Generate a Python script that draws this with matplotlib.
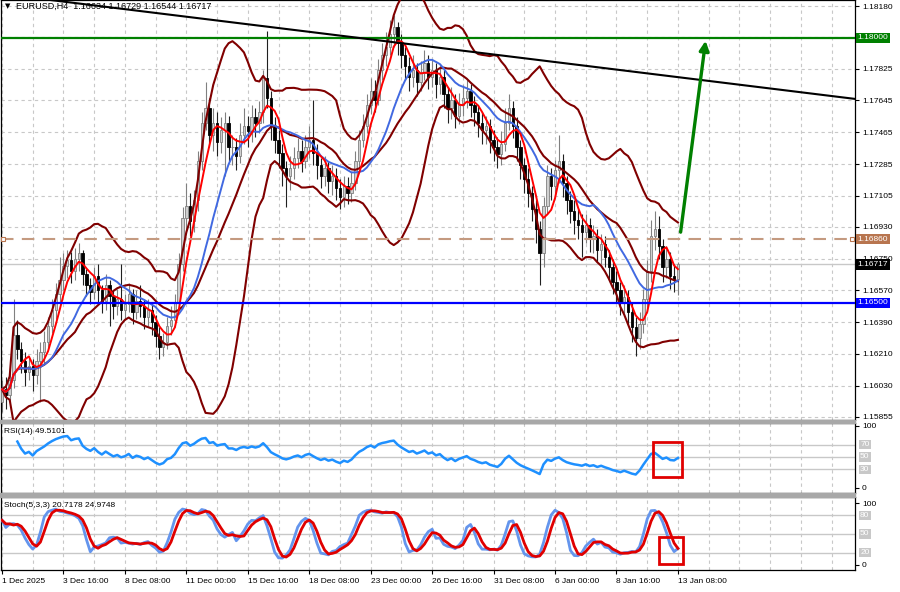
import numpy as np
import pandas as pd
import matplotlib
matplotlib.use('Agg')
import matplotlib.pyplot as plt
from matplotlib.patches import Rectangle

plt.rcParams['font.family'] = ['Liberation Sans', 'DejaVu Sans']

# EURUSD H4 candles, 1 Dec 2025 .. 13 Jan 2026
first_open = 1.1594
closes = [
    1.1601, 1.1598, 1.1606, 1.1632, 1.1624, 1.1617, 1.1611, 1.1614, 1.1609, 1.1617,
    1.1622, 1.1628, 1.1637, 1.1646, 1.1655, 1.1663, 1.1671, 1.1674, 1.1668, 1.1675,
    1.1678, 1.1666, 1.1660, 1.1656, 1.1665, 1.1657, 1.1651, 1.1660, 1.1654, 1.1648,
    1.1652, 1.1646, 1.1649, 1.1655, 1.1645, 1.1651, 1.1648, 1.1642, 1.1646, 1.1639,
    1.1631, 1.1625, 1.1628, 1.1637, 1.1640, 1.1650, 1.1672, 1.1698, 1.1705, 1.1696,
    1.1708, 1.1730, 1.1752, 1.1760, 1.1745, 1.1752, 1.1741, 1.1748, 1.1752, 1.1738,
    1.1738, 1.1733, 1.1745, 1.1750, 1.1747, 1.1755, 1.1752, 1.1758, 1.1777, 1.1766,
    1.1750, 1.1742, 1.1735, 1.1726, 1.1722, 1.1726, 1.1732, 1.1736, 1.1730, 1.1738,
    1.1742, 1.1735, 1.1728, 1.1722, 1.1726, 1.1719, 1.1722, 1.1715, 1.1710, 1.1716,
    1.1712, 1.1718, 1.1730, 1.1742, 1.1750, 1.1762, 1.1770, 1.1765, 1.1782, 1.1790,
    1.1795, 1.1802, 1.1806, 1.1797, 1.1790, 1.1784, 1.1778, 1.1782, 1.1775, 1.1780,
    1.1786, 1.1778, 1.1782, 1.1774, 1.1778, 1.1768, 1.1760, 1.1765, 1.1756, 1.1762,
    1.1766, 1.1770, 1.1762, 1.1758, 1.1752, 1.1748, 1.1750, 1.1742, 1.1738, 1.1734,
    1.1740, 1.1752, 1.1760, 1.1750, 1.1738, 1.1728, 1.1720, 1.1712, 1.1703, 1.1692,
    1.1678, 1.1705, 1.1722, 1.1716, 1.1725, 1.1730, 1.1718, 1.1708, 1.1702, 1.1697,
    1.1694, 1.1690, 1.1694, 1.1686, 1.1688, 1.1680, 1.1683, 1.1676, 1.1670, 1.1662,
    1.1657, 1.1650, 1.1653, 1.1645, 1.1636, 1.1630, 1.1638, 1.1652, 1.1668, 1.1688,
    1.1692, 1.1682, 1.1670, 1.1675, 1.1665, 1.16634, 1.16717]
highs = [
    1.1606, 1.1608, 1.1612, 1.1652, 1.1640, 1.1628, 1.1622, 1.1620, 1.1618, 1.1624,
    1.1628, 1.1634, 1.1642, 1.1652, 1.1661, 1.1676, 1.1678, 1.1680, 1.1679, 1.1681,
    1.1684, 1.1680, 1.1669, 1.1664, 1.1670, 1.1672, 1.1660, 1.1666, 1.1663, 1.1657,
    1.1658, 1.1672, 1.1655, 1.1661, 1.1658, 1.1657, 1.1660, 1.1652, 1.1652, 1.1650,
    1.1643, 1.1636, 1.1633, 1.1642, 1.1648, 1.1655, 1.1678, 1.1704, 1.1718, 1.1712,
    1.1714, 1.1736, 1.1758, 1.1775, 1.1766, 1.1760, 1.1758, 1.1755, 1.1758, 1.1756,
    1.1745, 1.1743, 1.1752, 1.1760, 1.1756, 1.1762, 1.1760, 1.1764, 1.1782, 1.1804,
    1.1770, 1.1755, 1.1748, 1.1740, 1.1730, 1.1733, 1.1738, 1.1743, 1.1742, 1.1745,
    1.1750, 1.1765, 1.1740, 1.1732, 1.1733, 1.1730, 1.1728, 1.1726, 1.1720, 1.1722,
    1.1721, 1.1724, 1.1736, 1.1748, 1.1757, 1.1768, 1.1777, 1.1776, 1.1788, 1.1797,
    1.1803, 1.1810, 1.1813, 1.1809, 1.1802, 1.1795, 1.1789, 1.1790, 1.1786, 1.1787,
    1.1793, 1.1790, 1.1788, 1.1786, 1.1785, 1.1782, 1.1772, 1.1772, 1.1768, 1.1769,
    1.1773, 1.1776, 1.1774, 1.1767, 1.1762, 1.1758, 1.1756, 1.1754, 1.1748, 1.1744,
    1.1747, 1.1760, 1.1768, 1.1764, 1.1755, 1.1742, 1.1732, 1.1726, 1.1716, 1.1708,
    1.1696, 1.1710, 1.1728, 1.1726, 1.1731, 1.1745, 1.1734, 1.1722, 1.1713, 1.1708,
    1.1703, 1.1700, 1.1700, 1.1698, 1.1694, 1.1692, 1.1689, 1.1688, 1.1680, 1.1675,
    1.1668, 1.1662, 1.1660, 1.1657, 1.1650, 1.1642, 1.1645, 1.1658, 1.1674, 1.1697,
    1.1702, 1.1699, 1.1686, 1.1682, 1.1679, 1.1672, 1.16729]
lows = [
    1.1588, 1.1590, 1.1594, 1.1602, 1.1618, 1.1610, 1.1603, 1.1606, 1.1600, 1.1604,
    1.1594, 1.1616, 1.1624, 1.1633, 1.1641, 1.1650, 1.1657, 1.1664, 1.1661, 1.1663,
    1.1668, 1.1660, 1.1654, 1.1649, 1.1652, 1.1650, 1.1644, 1.1646, 1.1637, 1.1641,
    1.1643, 1.1640, 1.1640, 1.1645, 1.1638, 1.1641, 1.1642, 1.1635, 1.1637, 1.1632,
    1.1625, 1.1618, 1.1620, 1.1624, 1.1632, 1.1636, 1.1646, 1.1668, 1.1690, 1.1688,
    1.1690, 1.1702, 1.1725, 1.1748, 1.1738, 1.1736, 1.1733, 1.1735, 1.1722, 1.1730,
    1.1728, 1.1725, 1.1729, 1.1740, 1.1738, 1.1741, 1.1744, 1.1746, 1.1752, 1.1760,
    1.1742, 1.1735, 1.1726, 1.1716, 1.1704, 1.1714, 1.1720, 1.1726, 1.1724, 1.1726,
    1.1732, 1.1728, 1.1720, 1.1715, 1.1716, 1.1712, 1.1711, 1.1708, 1.1703, 1.1704,
    1.1706, 1.1707, 1.1714, 1.1726, 1.1738, 1.1746, 1.1757, 1.1758, 1.1762, 1.1776,
    1.1784, 1.1790, 1.1795, 1.1790, 1.1783, 1.1776, 1.1770, 1.1772, 1.1767, 1.1770,
    1.1776, 1.1771, 1.1772, 1.1766, 1.1768, 1.1760, 1.1752, 1.1754, 1.1749, 1.1751,
    1.1756, 1.1760, 1.1755, 1.1750, 1.1744, 1.1740, 1.1740, 1.1735, 1.1730, 1.1726,
    1.1728, 1.1736, 1.1748, 1.1743, 1.1730, 1.1720, 1.1712, 1.1704, 1.1696, 1.1684,
    1.1660, 1.1670, 1.1700, 1.1708, 1.1711, 1.1718, 1.1710, 1.1700, 1.1695, 1.1689,
    1.1686, 1.1676, 1.1684, 1.1679, 1.1678, 1.1673, 1.1672, 1.1670, 1.1663, 1.1655,
    1.1650, 1.1643, 1.1644, 1.1638, 1.1628, 1.1620, 1.1624, 1.1633, 1.1645, 1.1662,
    1.1680, 1.1675, 1.1662, 1.1664, 1.1658, 1.1656, 1.16544]

date_labels = ['1 Dec 2025', '3 Dec 16:00', '8 Dec 08:00', '11 Dec 00:00', '15 Dec 16:00',
               '18 Dec 08:00', '23 Dec 00:00', '26 Dec 16:00', '31 Dec 08:00', '6 Jan 00:00',
               '8 Jan 16:00', '13 Jan 08:00']
price_ticks = [1.18180, 1.18003, 1.17825, 1.17645, 1.17465, 1.17285, 1.17105, 1.16930,
               1.16750, 1.16570, 1.16390, 1.16210, 1.16030, 1.15855]
price_tick_labels = ['1.18180', '', '1.17825', '1.17645', '1.17465', '1.17285', '1.17105',
                     '1.16930', '1.16750', '1.16570', '1.16390', '1.16210', '1.16030', '1.15855']

# drawn objects
resistance = 1.18000
support = 1.16500
pivot = 1.16860
bid = 1.16717
trend_pts = [(64.6, 1.18075), (222.1, 1.17654)]
arrow_from = (176.6, 1.16884)
arrow_to = (183.3, 1.17999)

n = len(closes)
x = np.arange(n)
close = pd.Series(closes)
high = pd.Series(highs)
low = pd.Series(lows)
opens = np.array([first_open] + closes[:-1])  # forex: open = previous close

# indicators
ma_fast = close.rolling(5, min_periods=1).mean()
ma_slow = close.rolling(14, min_periods=1).mean()
bb_mid = close.rolling(20, min_periods=1).mean()
bb_sd = close.rolling(20, min_periods=1).std(ddof=0)
bb_up = bb_mid + 2 * bb_sd
bb_dn = bb_mid - 2 * bb_sd

delta = close.diff()
gain = delta.clip(lower=0).ewm(alpha=1 / 14, adjust=True).mean()
loss = (-delta.clip(upper=0)).ewm(alpha=1 / 14, adjust=True).mean()
rsi = 100 - 100 / (1 + gain / loss)
rsi[:4] = np.nan  # not enough history yet

ll = low.rolling(5, min_periods=1).min()
hh = high.rolling(5, min_periods=1).max()
stoch_k = 100 * (close - ll).rolling(3, min_periods=1).sum() / (hh - ll).rolling(3, min_periods=1).sum()
stoch_d = stoch_k.rolling(3, min_periods=1).mean()

W, H = 900, 592
fig = plt.figure(figsize=(9, 5.92), dpi=100)
fig.patch.set_facecolor('white')
right = 855 / W
ax = fig.add_axes([1 / W, 1 - 420 / H, right - 1 / W, 420 / H])
ax_rsi = fig.add_axes([1 / W, 1 - 493 / H, right - 1 / W, 70 / H])
ax_st = fig.add_axes([1 / W, 1 - 570 / H, right - 1 / W, 73 / H])

# grey separators between windows
for y0, h in [(420, 3), (493, 4)]:
    fig.patches.append(Rectangle((0, 1 - (y0 + h) / H), right, h / H,
                                 transform=fig.transFigure, color='#a8a8a8', zorder=0))

grid_kw = dict(color='#c8c8c8', ls=(0, (3, 3)), lw=0.8, zorder=0)
xlim = (-0.26, 222.1)
for a in (ax, ax_rsi, ax_st):
    a.set_xlim(*xlim)
    for b in range(0, 223, 8):
        a.axvline(b, **grid_kw)
    for s in a.spines.values():
        s.set_color('black')
        s.set_linewidth(0.9)
    a.yaxis.tick_right()
    a.tick_params(axis='y', length=3, labelsize=6, pad=2, colors='black')
    a.tick_params(axis='x', length=0, labelbottom=False)

# ---------- main price window ----------
ax.set_ylim(1.15836, 1.18214)
ax.set_yticks(price_ticks)
ax.set_yticklabels(price_tick_labels)
ax.grid(axis='y', **grid_kw)

up = close.values >= opens
body_h = close.values - opens
ax.vlines(x[up], low[up], high[up], colors='#808080', lw=0.8, zorder=2)
ax.vlines(x[~up], low[~up], high[~up], colors='#202020', lw=0.8, zorder=2)
ax.bar(x[up], body_h[up], bottom=opens[up], width=0.62, color='#d0d0d0',
       edgecolor='#808080', linewidth=0.6, zorder=3)
ax.bar(x[~up], body_h[~up], bottom=opens[~up], width=0.62, color='black',
       edgecolor='black', linewidth=0.6, zorder=3)

for line in (bb_up, bb_mid, bb_dn):
    ax.plot(x, line, color='#800000', lw=1.5, zorder=4)
ax.plot(x, ma_slow, color='#4169e1', lw=1.4, zorder=5)
ax.plot(x, ma_fast, color='#ff0000', lw=1.4, zorder=6)

ax.axhline(bid, color='#c8c8c8', lw=1, zorder=1)
ax.axhline(resistance, color='#008000', lw=1.6, zorder=7)
ax.axhline(support, color='#0000ff', lw=1.6, zorder=7)
ax.axhline(pivot, color='#c49a80', lw=1.5, ls=(0, (6, 4)), zorder=7)
ax.plot([xlim[0] + 0.55, xlim[1] - 0.75], [pivot, pivot], ls='none', marker='s', ms=3.5,
        mfc='white', mec='#b8754f', mew=0.8, zorder=8, clip_on=False)
ax.axline(trend_pts[0], trend_pts[1], color='black', lw=1.5, zorder=7)
ax.annotate('', xy=arrow_to, xytext=arrow_from,
            arrowprops=dict(arrowstyle='-|>', color='#008000', lw=2.4, mutation_scale=14),
            zorder=8)

ytr = ax.get_yaxis_transform()
for val, fc in [(resistance, '#008000'), (pivot, '#b8754f'), (bid, 'black'), (support, '#0000ff')]:
    ax.text(1.003, val, f'{val:.5f}', transform=ytr, ha='left', va='center', fontsize=6,
            color='white', zorder=10, clip_on=False,
            bbox=dict(boxstyle='square,pad=0.2', fc=fc, ec='none'))

ax.text(0.005, 0.993, '\u25bc', transform=ax.transAxes, ha='left', va='top',
        fontsize=5, family=['DejaVu Sans'])
ax.text(0.018, 0.995, 'EURUSD,H4  1.16634 1.16729 1.16544 1.16717', transform=ax.transAxes,
        ha='left', va='top', fontsize=6.5, zorder=10)

# ---------- RSI window ----------
ax_rsi.set_ylim(-8.1, 104.8)
for lv in (70, 50, 30):
    ax_rsi.axhline(lv, color='#c8c8c8', lw=1, zorder=1)
ax_rsi.plot(x, rsi, color='#1e90ff', lw=1.8, zorder=3)
ax_rsi.set_yticks([100, 0])
ax_rsi.set_yticklabels(['100', '0'])
rtr = ax_rsi.get_yaxis_transform()
for lv in (70, 50, 30):
    ax_rsi.text(1.006, lv, str(lv), transform=rtr, ha='left', va='center', fontsize=6,
                color='white', clip_on=False,
                bbox=dict(boxstyle='square,pad=0.15', fc='#c8c8c8', ec='none'))
ax_rsi.text(0.004, 0.93, 'RSI(14) 49.5101', transform=ax_rsi.transAxes, ha='left', va='top',
            fontsize=6)
ax_rsi.add_patch(Rectangle((169.5, 17.7), 7.6, 56.5, fill=False, ec='#e00000', lw=2, zorder=6))

# ---------- Stochastic window ----------
ax_st.set_ylim(-8.1, 109.7)
for lv in (80, 50, 20):
    ax_st.axhline(lv, color='#c8c8c8', lw=1, zorder=1)
ax_st.plot(x, stoch_k, color='#6495ed', lw=2, zorder=3)
ax_st.plot(x, stoch_d, color='#e00000', lw=2, zorder=4)
ax_st.set_yticks([100, 0])
ax_st.set_yticklabels(['100', '0'])
str_ = ax_st.get_yaxis_transform()
for lv in (80, 50, 20):
    ax_st.text(1.006, lv, str(lv), transform=str_, ha='left', va='center', fontsize=6,
               color='white', clip_on=False,
               bbox=dict(boxstyle='square,pad=0.15', fc='#c8c8c8', ec='none'))
ax_st.text(0.004, 0.93, 'Stoch(5,3,3) 20.7178 24.9748', transform=ax_st.transAxes,
           ha='left', va='top', fontsize=6)
ax_st.add_patch(Rectangle((171.1, 1.6), 6.2, 43.6, fill=False, ec='#e00000', lw=2, zorder=6))

ax_st.set_xticks(np.arange(0, n, 16))
ax_st.set_xticklabels(date_labels)
ax_st.tick_params(axis='x', length=3, labelsize=6, pad=3, labelbottom=True)
for lbl in ax_st.get_xticklabels():
    lbl.set_ha('left')

fig.savefig('out.png', dpi=100)
